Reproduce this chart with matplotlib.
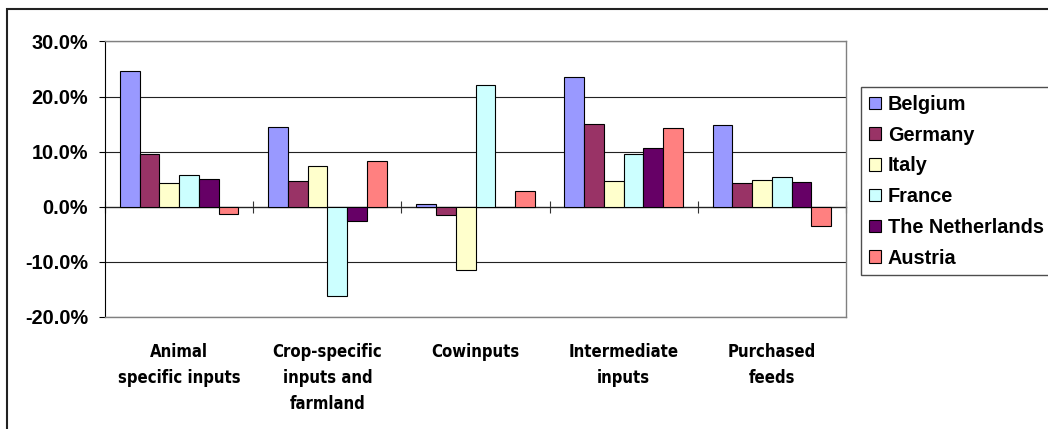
import numpy as np
import matplotlib
matplotlib.use('Agg')
from matplotlib import pyplot as plt
from matplotlib import font_manager
from matplotlib.patches import Rectangle

# data: % change per cost category and country
categories = ['Animal\nspecific inputs', 'Crop-specific\ninputs and\nfarmland',
              'Cowinputs', 'Intermediate\ninputs', 'Purchased\nfeeds']
countries = ['Belgium', 'Germany', 'Italy', 'France', 'The Netherlands', 'Austria']
belgium = [24.7, 14.4, 0.5, 23.6, 14.8]
germany = [9.5, 4.6, -1.6, 15.0, 4.3]
italy = [4.3, 7.3, -11.5, 4.6, 4.9]
france = [5.7, -16.2, 22.1, 9.5, 5.3]
netherlands = [5.0, -2.6, 0.0, 10.6, 4.4]
austria = [-1.3, 8.2, 2.9, 14.2, -3.5]
colors = ['#9999FF', '#993366', '#FFFFCC', '#CCFFFF', '#660066', '#FF8080']

series = [belgium, germany, italy, france, netherlands, austria]

plt.rcParams['font.family'] = ['Liberation Sans', 'DejaVu Sans']
plt.rcParams['font.weight'] = 'bold'

# narrower face for the category labels if one is around
fonts = font_manager.fontManager.ttflist
installed = {f.name for f in fonts}
if 'Liberation Sans Narrow' in installed:
    cat_font = dict(family=['Liberation Sans Narrow'], fontsize=13.4)
elif any(f.name == 'DejaVu Sans' and f.stretch == 'condensed' for f in fonts):
    cat_font = dict(family=['DejaVu Sans'], fontstretch='condensed', fontsize=12)
else:
    cat_font = dict(family=['Liberation Sans'], fontsize=12.3)

fig = plt.figure(figsize=(10.48, 4.29), dpi=100)
ax = fig.add_axes([0.1002, 0.2618, 0.7071, 0.6415])

x = np.arange(len(categories))
width = 0.8 / len(series)
for i, (vals, name, c) in enumerate(zip(series, countries, colors)):
    ax.bar(x - 0.4 + width * (i + 0.5), vals, width, color=c,
           edgecolor='black', linewidth=0.8, label=name, zorder=3)

ax.set_xlim(-0.5, len(categories) - 0.5)
ax.set_ylim(-20, 30)
ax.set_yticks(np.arange(-20, 31, 10))
ax.yaxis.set_major_formatter(plt.FuncFormatter(lambda v, p: '%.1f%%' % v))
ax.tick_params(axis='y', labelsize=14.3, length=4.3, width=0.8,
               color='black', pad=8)
ax.yaxis.grid(True, color='#222222', linewidth=0.8, zorder=0)

ax.set_xticks(x)
ax.set_xticklabels(categories, linespacing=1.56, **cat_font)
ax.tick_params(axis='x', length=0, pad=19)

for s in ['top', 'right', 'bottom']:
    ax.spines[s].set_color('#808080')
    ax.spines[s].set_linewidth(1.0)
ax.spines['left'].set_color('black')
ax.spines['left'].set_linewidth(0.8)

# category axis crossing at zero, with tick marks between groups
zero_pos = (0 - ax.get_ylim()[0]) / (ax.get_ylim()[1] - ax.get_ylim()[0])
sec = ax.secondary_xaxis(zero_pos)
sec.set_xticks(np.arange(len(categories) + 1) - 0.5)
sec.set_xticklabels([])
sec.tick_params(direction='inout', length=9, width=0.8, color='#333333')
sec.spines['bottom'].set_color('#666666')
sec.spines['bottom'].set_linewidth(1.0)
sec.spines['bottom'].set_zorder(4)

handles, labels = ax.get_legend_handles_labels()
leg = fig.legend(handles, labels, loc='upper left',
                 bbox_to_anchor=(861 / 1048, 1 - 87 / 429),
                 fontsize=14.3, frameon=True, fancybox=False,
                 handlelength=0.6, handleheight=0.6, handletextpad=0.35,
                 labelspacing=0.59, borderpad=0.4, borderaxespad=0)
leg.get_frame().set_edgecolor('#222222')
leg.get_frame().set_linewidth(1.0)

# chart border
fig.patches.append(Rectangle((6.5 / 1048, -0.5), 1.5, 1.5 - 9 / 429,
                             transform=fig.transFigure, fill=False,
                             edgecolor='#222222', linewidth=1.5))

fig.savefig('out.png', dpi=100)
